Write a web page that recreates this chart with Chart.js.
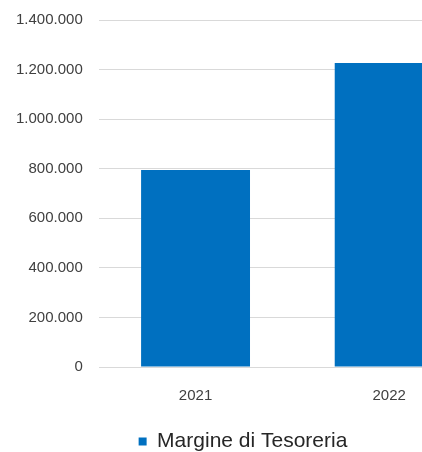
<!DOCTYPE html>
<html>
<head>
<meta charset="utf-8">
<script src="https://cdn.jsdelivr.net/npm/chart.js@4"></script>
<style>
  html, body { margin: 0; padding: 0; background: #fff; overflow: hidden; }
  #wrap { width: 486px; height: 457px; position: relative; top: -5px; }
</style>
</head>
<body>
<div id="wrap"><canvas id="grafik"></canvas></div>
<script>
// dati del grafico
var anni = ['2021', '2022'];
var margineTesoreria = [795000, 1227000];
var serieLabel = 'Margine di Tesoreria';
var yMin = 0;
var yMax = 1400000;
var yStep = 200000;

function formatIt(v) {
  return String(v).replace(/\B(?=(\d{3})+(?!\d))/g, '.');
}

var ctx = document.getElementById('grafik').getContext('2d');

var grafik = new Chart(ctx, {
  type: 'bar',
  data: {
    labels: anni,
    datasets: [{
      label: serieLabel,
      data: margineTesoreria,
      backgroundColor: '#0070C0',
      borderWidth: 0,
      barPercentage: 0.5625,
      categoryPercentage: 1
    }]
  },
  options: {
    responsive: true,
    maintainAspectRatio: false,
    animation: false,
    layout: {
      padding: { left: 0, right: 0, top: 0, bottom: -10 }
    },
    plugins: {
      legend: {
        position: 'bottom',
        labels: {
          boxWidth: 8,
          boxHeight: 8,
          padding: 6,
          color: '#262626',
          font: { family: 'Liberation Sans', size: 21 }
        }
      },
      tooltip: { enabled: false }
    },
    scales: {
      y: {
        min: yMin,
        max: yMax,
        border: { display: false },
        grid: {
          color: '#d9d9d9',
          lineWidth: 1,
          drawTicks: false
        },
        ticks: {
          stepSize: yStep,
          padding: 16,
          color: '#404040',
          font: { family: 'Liberation Sans', size: 15 },
          callback: function (v) { return formatIt(v); }
        }
      },
      x: {
        border: { display: false },
        grid: { display: false, drawTicks: false },
        ticks: {
          padding: 20,
          color: '#404040',
          font: { family: 'Liberation Sans', size: 15 }
        }
      }
    }
  }
});
</script>
</body>
</html>
